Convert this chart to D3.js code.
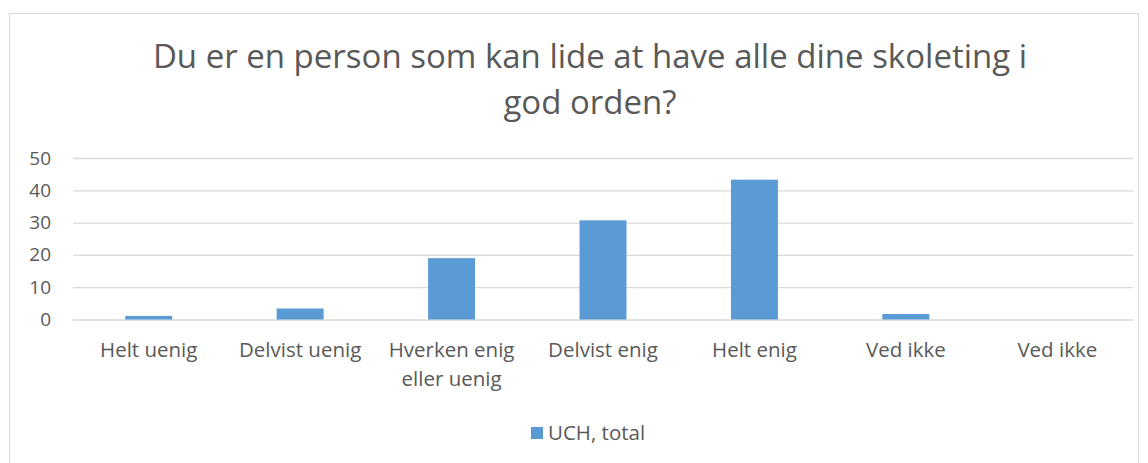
<!DOCTYPE html>
<html lang="da">
<head>
<meta charset="UTF-8">
<title>Du er en person som kan lide at have alle dine skoleting i god orden?</title>
<script src="https://d3js.org/d3.v7.min.js"></script>
<style>
  body { margin: 0; background: #fff; }
  .grid line { stroke: #d9d9d9; stroke-width: 1.3; }
  .grid path { display: none; }
</style>
</head>
<body>
<script>
const categories = ["Helt uenig", "Delvist uenig", "Hverken enig eller uenig", "Delvist enig", "Helt enig", "Ved ikke", "Ved ikke "];
const values = [1.1, 3.4, 19.0, 30.7, 43.3, 1.7, 0];
const yTicks = [0, 10, 20, 30, 40, 50];
const seriesName = "UCH, total";
const titleLines = ["Du er en person som kan lide at have alle dine skoleting i", "god orden?"];

const W = 1148, H = 463;
const plot = {left: 73, right: 1133, top: 158, bottom: 319.5};
const font = "'Open Sans', 'Noto Sans', sans-serif";
const textColor = "#595959";

const svg = d3.select("body").append("svg")
  .attr("width", W).attr("height", H);

// chart frame
svg.append("rect")
  .attr("x", 9.5).attr("y", 13.5)
  .attr("width", 1129).attr("height", 470)
  .attr("fill", "#fff").attr("stroke", "#d9d9d9");

// title
svg.append("text")
  .attr("text-anchor", "middle")
  .attr("fill", textColor)
  .attr("font-family", font)
  .attr("font-size", 33)
  .selectAll("tspan").data(titleLines).enter().append("tspan")
  .attr("x", 590)
  .attr("y", (d, i) => 68 + i * 46)
  .text(d => d);

const x = d3.scaleBand().domain(categories).range([plot.left, plot.right]).paddingInner(0.69).paddingOuter(0.345);
const y = d3.scaleLinear().domain([0, 50]).range([plot.bottom, plot.top]);

svg.append("g")
  .attr("class", "grid")
  .attr("transform", "translate(" + plot.left + ",0)")
  .call(d3.axisLeft(y).tickValues(yTicks).tickSize(-(plot.right - plot.left)).tickFormat(""));

svg.selectAll(".bar")
  .data(values)
  .enter().append("rect")
  .attr("class", "bar")
  .attr("x", (d, i) => x(categories[i]))
  .attr("width", x.bandwidth())
  .attr("y", d => y(d))
  .attr("height", d => y(0) - y(d))
  .attr("fill", "#5b9bd5");

// y axis labels
const yAxis = svg.append("g")
  .attr("transform", "translate(" + plot.left + ",0)")
  .call(d3.axisLeft(y).tickValues(yTicks).tickSize(0).tickPadding(22))
  .attr("font-family", font)
  .attr("font-size", 19);
yAxis.select(".domain").remove();
yAxis.selectAll("text").attr("fill", textColor);

// x axis labels with wrapping
const xAxis = svg.append("g")
  .attr("transform", "translate(0," + plot.bottom + ")")
  .call(d3.axisBottom(x).tickSize(0).tickPadding(27))
  .attr("font-family", font)
  .attr("font-size", 20.5);
xAxis.select(".domain").remove();
xAxis.selectAll(".tick text").attr("fill", textColor).each(function (d) {
  const t = d3.select(this);
  const label = d.trim();
  const lines = label === "Hverken enig eller uenig" ? ["Hverken enig", "eller uenig"] : [label];
  t.text(null);
  lines.forEach((l, i) => {
    t.append("tspan").attr("x", 0).attr("dy", i === 0 ? "0.5em" : "1.42em").text(l);
  });
});

// legend
const legend = svg.append("g").attr("transform", "translate(531,427)");
legend.append("rect").attr("width", 12).attr("height", 12).attr("fill", "#5b9bd5");
legend.append("text")
  .attr("x", 17).attr("y", 13)
  .attr("fill", textColor)
  .attr("font-family", font)
  .attr("font-size", 20.5)
  .text(seriesName);
</script>
</body>
</html>
